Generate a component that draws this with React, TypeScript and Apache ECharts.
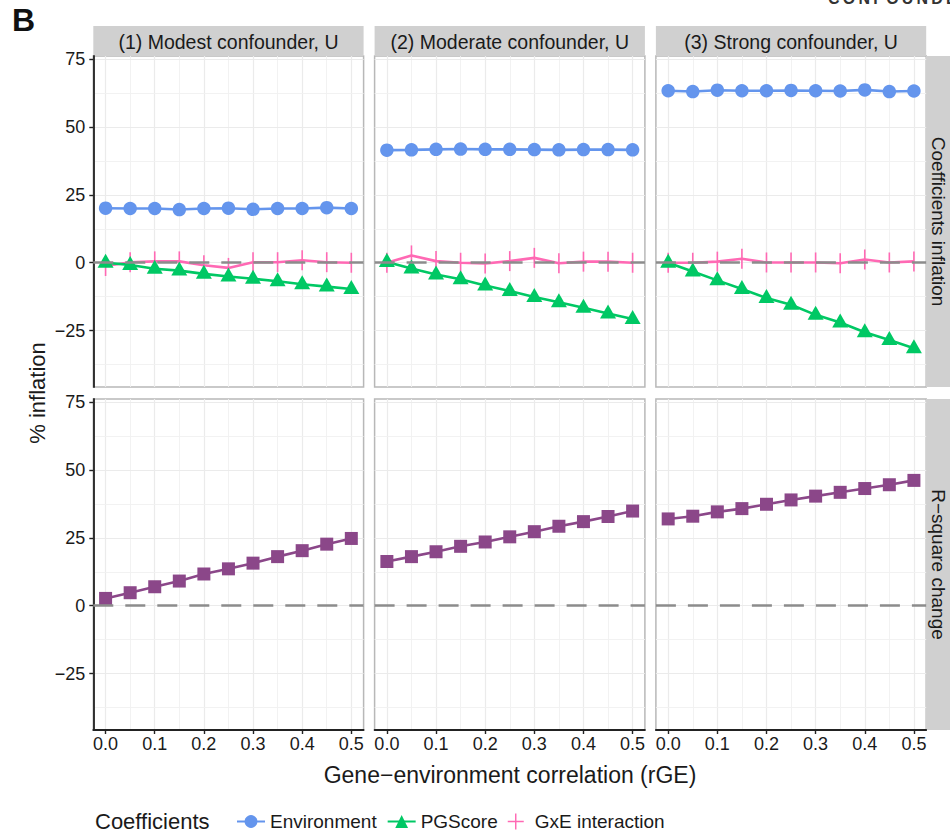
import React, { useEffect, useRef } from "react";
import * as echarts from "echarts";

// ---------- data ----------
const rGE = [0, 0.05, 0.1, 0.15, 0.2, 0.25, 0.3, 0.35, 0.4, 0.45, 0.5];
const panelTitles = ["(1) Modest confounder, U", "(2) Moderate confounder, U", "(3) Strong confounder, U"];
const rowTitles = ["Coefficients inflation", "R\u2212square change"];
const xTickValues = [0, 0.1, 0.2, 0.3, 0.4, 0.5];
const yTickValues = [-25, 0, 25, 50, 75];
const yMinorValues = [-37.5, -12.5, 12.5, 37.5, 62.5];

const environment1 = [20.1, 20.0, 20.0, 19.6, 20.0, 20.1, 19.7, 20.0, 20.0, 20.3, 20.0];
const environment2 = [41.5, 41.6, 41.8, 41.9, 41.8, 41.8, 41.7, 41.6, 41.7, 41.7, 41.6];
const environment3 = [63.4, 63.1, 63.6, 63.4, 63.4, 63.5, 63.4, 63.3, 63.7, 63.1, 63.3];

const pgscore1 = [0, -0.8, -2.2, -2.9, -4.1, -5.1, -5.9, -6.8, -7.9, -8.8, -9.7];
const pgscore2 = [0.3, -2.1, -4.3, -6.1, -8.4, -10.4, -12.6, -14.6, -16.6, -18.7, -20.7];
const pgscore3 = [0, -3.2, -6.5, -9.7, -13.0, -15.5, -19.2, -22.0, -25.6, -28.5, -31.5];

const gxe1 = [-1.2, 0.2, 0.5, 0.5, -0.9, -1.9, 0.2, 0.2, 0.9, 0.2, 0];
const gxe2 = [0, 2.7, 0.6, 0, -0.3, 0.6, 1.8, -0.2, 0.4, 0.4, 0];
const gxe3 = [0, 0, 0.4, 1.5, 0.1, 0.1, 0.1, -0.2, 1.2, 0.1, 0.5];

const rsquare1 = [2.7, 4.8, 7.0, 9.1, 11.7, 13.6, 15.7, 18.1, 20.3, 22.7, 24.8];
const rsquare2 = [16.3, 18.1, 19.9, 21.9, 23.5, 25.4, 27.3, 29.3, 31.0, 32.9, 34.9];
const rsquare3 = [32.0, 33.0, 34.6, 35.8, 37.4, 39.0, 40.4, 41.8, 43.2, 44.6, 46.2];

const environmentByPanel = [environment1, environment2, environment3];
const pgscoreByPanel = [pgscore1, pgscore2, pgscore3];
const gxeByPanel = [gxe1, gxe2, gxe3];
const rsquareByPanel = [rsquare1, rsquare2, rsquare3];

// ---------- layout / style ----------
const FONT = "'Liberation Sans', Arial, Helvetica, sans-serif";
const COL_LEFT = [93.3, 374.6, 655.9];
const COL_W = 270.3;
const ROW_TOP = [56, 399];
const ROW_H = 331;
const Y_MIN = -45.8;
const Y_MAX = 76.2;
const X_MIN = -0.025;
const X_MAX = 0.525;

const C_ENV = "#6495ed";
const C_PG = "#00c864";
const C_GXE = "#ff69b4";
const C_RSQ = "#8b4789";
const TEXT = "#1a1a1a";

const xy = (vals: number[]) => vals.map((v, i) => [rGE[i], v]);
const minus = (s: string) => s.replace("-", "\u2212");

export default function App() {
  const ref = useRef<HTMLDivElement>(null);

  useEffect(() => {
    const chart = echarts.init(ref.current!, null, { renderer: "svg" });
    const grids: any[] = [];
    const xAxes: any[] = [];
    const yAxes: any[] = [];
    const series: any[] = [];
    const graphics: any[] = [];

    for (let r = 0; r < 2; r++) {
      for (let c = 0; c < 3; c++) {
        const i = r * 3 + c;
        grids.push({
          left: COL_LEFT[c],
          top: ROW_TOP[r],
          width: COL_W,
          height: ROW_H,
          show: true,
          backgroundColor: "#ffffff",
          borderColor: "#b8b8b8",
          borderWidth: 1.5,
        });
        xAxes.push({
          type: "value",
          gridIndex: i,
          min: X_MIN,
          max: X_MAX,
          axisLine: { show: r === 1, onZero: false, lineStyle: { color: "#222", width: 1.8 } },
          axisTick: {
            show: r === 1,
            customValues: xTickValues,
            length: 4,
            lineStyle: { color: "#222", width: 1.4 },
          },
          axisLabel: {
            show: r === 1,
            customValues: xTickValues,
            formatter: (v: number) => Number(v).toFixed(1),
            margin: 5,
            fontSize: 18,
            color: TEXT,
            fontFamily: FONT,
          },
          splitLine: { show: false },
          z: 8,
        });
        yAxes.push({
          type: "value",
          gridIndex: i,
          min: Y_MIN,
          max: Y_MAX,
          axisLine: { show: c === 0, onZero: false, lineStyle: { color: "#222", width: 1.8 } },
          axisTick: {
            show: c === 0,
            customValues: yTickValues,
            length: 4,
            lineStyle: { color: "#222", width: 1.4 },
          },
          axisLabel: {
            show: c === 0,
            customValues: yTickValues,
            formatter: (v: number) => minus(String(v)),
            margin: 8,
            fontSize: 18,
            color: TEXT,
            fontFamily: FONT,
          },
          splitLine: { show: false },
          z: 8,
        });

        // grid lines (major + minor) drawn through the axes
        const gridLineData: any[] = [];
        rGE.forEach((x, k) => {
          gridLineData.push({
            xAxis: x,
            lineStyle: { color: k % 2 === 0 ? "#ebebeb" : "#f1f1f1", width: k % 2 === 0 ? 1.2 : 0.9, type: "solid" },
          });
        });
        yTickValues.forEach((y) => {
          gridLineData.push({ yAxis: y, lineStyle: { color: "#ebebeb", width: 1.2, type: "solid" } });
        });
        yMinorValues.forEach((y) => {
          gridLineData.push({ yAxis: y, lineStyle: { color: "#f1f1f1", width: 0.9, type: "solid" } });
        });
        series.push({
          type: "line",
          name: "_grid" + i,
          xAxisIndex: i,
          yAxisIndex: i,
          data: [],
          silent: true,
          z: 0,
          markLine: {
            z: 0,
            silent: true,
            symbol: ["none", "none"],
            label: { show: false },
            emphasis: { disabled: true },
            data: gridLineData,
          },
        });

        if (r === 0) {
          series.push({
            type: "line",
            name: "GxE interaction",
            xAxisIndex: i,
            yAxisIndex: i,
            data: xy(gxeByPanel[c]),
            symbol: "rect",
            symbolSize: [1.6, 20],
            lineStyle: { color: C_GXE, width: 2.6 },
            itemStyle: { color: C_GXE },
            z: 3,
          });
          series.push({
            type: "line",
            name: "Environment",
            xAxisIndex: i,
            yAxisIndex: i,
            data: xy(environmentByPanel[c]),
            symbol: "circle",
            symbolSize: 13.5,
            lineStyle: { color: C_ENV, width: 2.6 },
            itemStyle: { color: C_ENV },
            z: 4,
          });
          series.push({
            type: "line",
            name: "PGScore",
            xAxisIndex: i,
            yAxisIndex: i,
            data: xy(pgscoreByPanel[c]),
            symbol: "triangle",
            symbolSize: [16, 14],
            symbolOffset: [0, -2],
            lineStyle: { color: C_PG, width: 2.6 },
            itemStyle: { color: C_PG },
            z: 5,
          });
        } else {
          series.push({
            type: "line",
            name: "R-square",
            xAxisIndex: i,
            yAxisIndex: i,
            data: xy(rsquareByPanel[c]),
            symbol: "rect",
            symbolSize: 13,
            lineStyle: { color: C_RSQ, width: 2.6 },
            itemStyle: { color: C_RSQ },
            z: 4,
          });
        }

        // dashed zero reference line on top
        series.push({
          type: "line",
          name: "_zero" + i,
          xAxisIndex: i,
          yAxisIndex: i,
          data: [],
          silent: true,
          z: 10,
          markLine: {
            z: 10,
            silent: true,
            symbol: ["none", "none"],
            label: { show: false },
            emphasis: { disabled: true },
            data: [{ yAxis: 0, lineStyle: { color: "#8c8c8c", width: 2.5, type: [20, 12] } }],
          },
        });
      }
    }

    // top strips
    for (let c = 0; c < 3; c++) {
      graphics.push({
        type: "rect",
        shape: { x: COL_LEFT[c], y: 26, width: COL_W, height: 30 },
        style: { fill: "#d0d0d0" },
        silent: true,
      });
      graphics.push({
        type: "text",
        x: COL_LEFT[c] + COL_W / 2,
        y: 42,
        style: {
          text: panelTitles[c],
          fontSize: 19.5,
          fontFamily: FONT,
          fill: TEXT,
          align: "center",
          verticalAlign: "middle",
        },
        silent: true,
      });
    }
    // right strips
    for (let r = 0; r < 2; r++) {
      graphics.push({
        type: "rect",
        shape: { x: 926, y: ROW_TOP[r], width: 30, height: ROW_H },
        style: { fill: "#d0d0d0" },
        silent: true,
      });
      graphics.push({
        type: "text",
        x: 938.5,
        y: ROW_TOP[r] + ROW_H / 2,
        rotation: -Math.PI / 2,
        style: {
          text: rowTitles[r],
          fontSize: 19,
          fontFamily: FONT,
          fill: TEXT,
          align: "center",
          verticalAlign: "middle",
        },
        silent: true,
      });
    }
    // titles
    graphics.push({
      type: "text",
      x: 37,
      y: 393,
      rotation: Math.PI / 2,
      style: { text: "% inflation", fontSize: 22, fontFamily: FONT, fill: TEXT, align: "center", verticalAlign: "middle" },
      silent: true,
    });
    graphics.push({
      type: "text",
      x: 510,
      y: 775,
      style: {
        text: "Gene\u2212environment correlation (rGE)",
        fontSize: 23,
        fontFamily: FONT,
        fill: TEXT,
        align: "center",
        verticalAlign: "middle",
      },
      silent: true,
    });
    graphics.push({
      type: "text",
      x: 95,
      y: 821,
      style: { text: "Coefficients", fontSize: 22, fontFamily: FONT, fill: TEXT, align: "left", verticalAlign: "middle" },
      silent: true,
    });
    graphics.push({
      type: "text",
      x: 12,
      y: 20,
      style: { text: "B", fontSize: 32, fontWeight: "bold", fontFamily: FONT, fill: "#111", align: "left", verticalAlign: "middle" },
      silent: true,
    });
    graphics.push({
      type: "text",
      x: 828,
      y: -2,
      style: {
        text: "C\u2009O\u2009N\u2009F\u2009O\u2009U\u2009N\u2009D\u2009E",
        fontSize: 16,
        fontWeight: "bold",
        fontFamily: FONT,
        fill: "#333",
        align: "left",
        verticalAlign: "middle",
      },
      silent: true,
    });

    chart.setOption({
      animation: false,
      backgroundColor: "#ffffff",
      textStyle: { fontFamily: FONT },
      grid: grids,
      xAxis: xAxes,
      yAxis: yAxes,
      series,
      graphic: graphics,
      legend: {
        data: [
          { name: "Environment" },
          { name: "PGScore" },
          { name: "GxE interaction", icon: "path://M9.1,0H10.9V20H9.1Z M0,9.1H20V10.9H0Z" },
        ],
        left: 231,
        top: 807,
        itemWidth: 28,
        itemHeight: 16,
        itemGap: 10,
        selectedMode: false,
        textStyle: { fontSize: 19, color: TEXT, fontFamily: FONT },
      },
    });

    return () => chart.dispose();
  }, []);

  return (
    <div
      ref={ref}
      style={{ position: "fixed", left: 0, top: 0, width: 950, height: 833, background: "#fff" }}
    />
  );
}
